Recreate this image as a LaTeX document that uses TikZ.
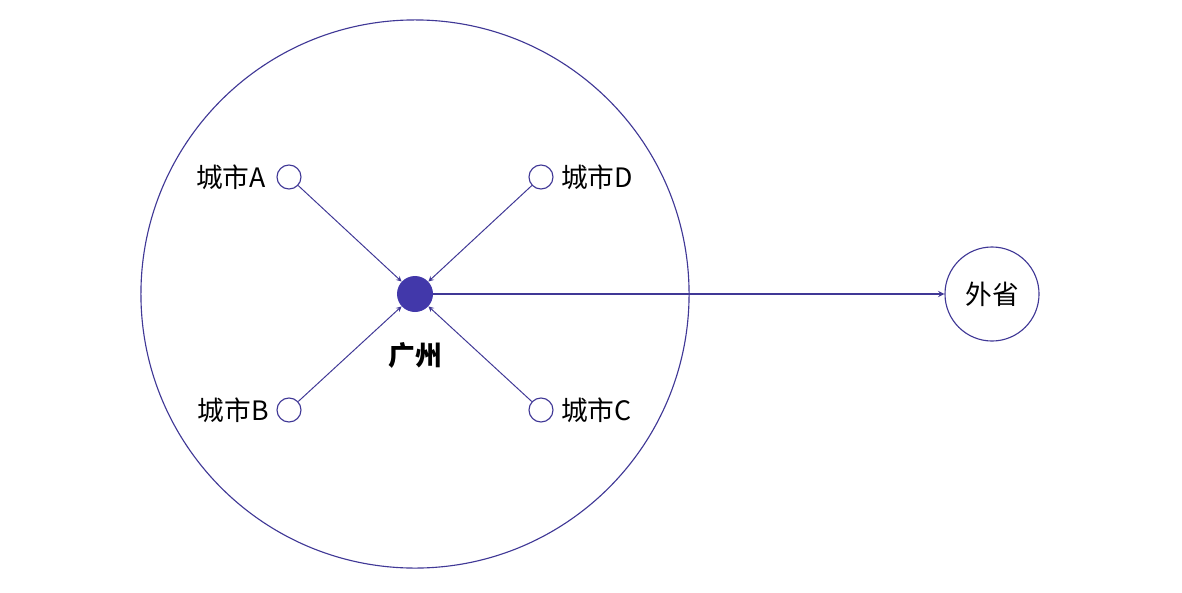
\documentclass[tikz,border=0pt]{standalone}
\usepackage{fontspec}
\setmainfont{Noto Sans CJK SC}
\usetikzlibrary{positioning}
\definecolor{lineblue}{RGB}{64,56,150}
\definecolor{dotblue}{RGB}{66,56,170}
\begin{document}
\begin{tikzpicture}[x=0.025cm, y=-0.025cm, >=stealth,
	city/.style={draw=lineblue, circle, line width=0.8pt, minimum size=0.6cm, inner sep=0pt},
	lbl/.style={font=\fontsize{19}{22}\selectfont, inner sep=1pt}]
				\useasboundingbox (0,0) rectangle (1182,592);
				\node[draw=lineblue, circle, line width=0.8pt, minimum size=13.7cm, inner sep=0pt]
				(region) at (415,294) {};
				\node[fill=dotblue, circle, minimum size=0.9cm, inner sep=0pt]
				(gz) at (415,294) {};
				\node[lbl, font=\fontsize{19}{22}\selectfont\bfseries, below=0.72cm of gz] (gzl) {广州};
				\node[city] (a) at (289,177) {};
				\node[city] (d) at (541,177) {};
				\node[city] (b) at (289,410) {};
				\node[city] (c) at (541,410) {};
				\node[lbl, left=0.22cm of a] (al) {城市A};
				\node[lbl, right=0.15cm of d] (dl) {城市D};
				\node[lbl, left=0.15cm of b] (bl) {城市B};
				\node[lbl, right=0.15cm of c] (cl) {城市C};
				\node[draw=lineblue, circle, line width=0.8pt, minimum size=2.35cm, inner sep=0pt,
				font=\fontsize{19}{22}\selectfont]
				(ws) at (992,294) {外省};
				\draw[->, lineblue, line width=0.7pt] (a) -- (gz);
				\draw[->, lineblue, line width=0.7pt] (d) -- (gz);
				\draw[->, lineblue, line width=0.7pt] (b) -- (gz);
				\draw[->, lineblue, line width=0.7pt] (c) -- (gz);
				\draw[->, lineblue, line width=1pt] (gz) -- (ws);
\end{tikzpicture}
\end{document}
